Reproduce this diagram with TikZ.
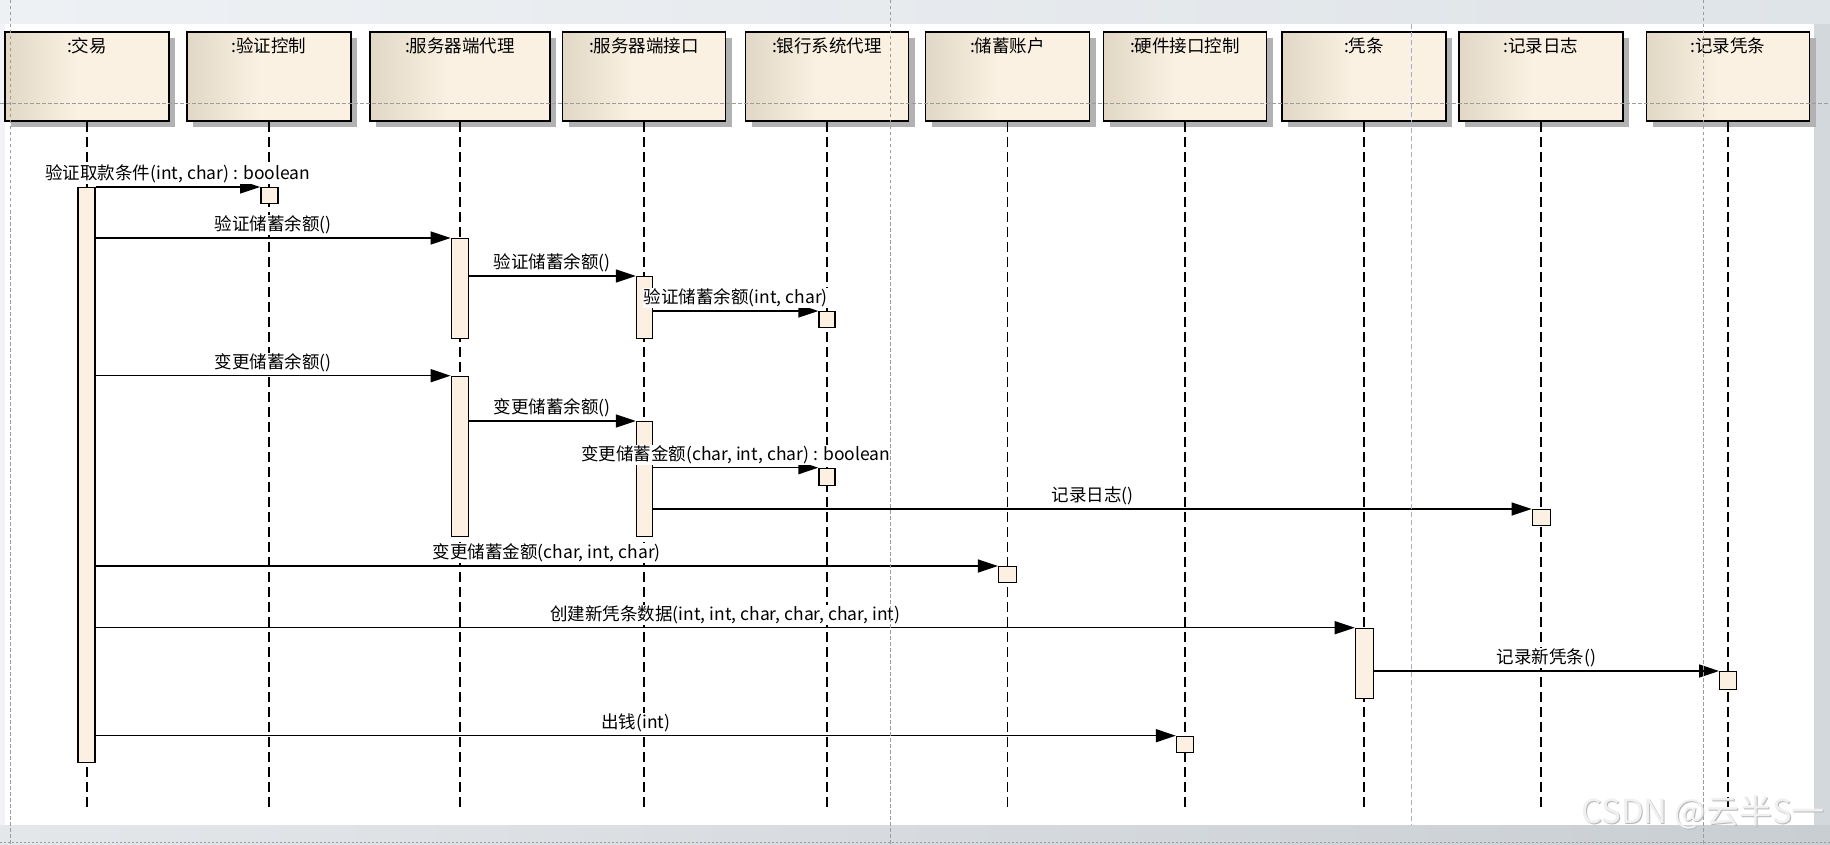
\documentclass[tikz,border=0pt]{standalone}
\usepackage{fontspec}
\setmainfont{Noto Sans CJK SC}
\usetikzlibrary{arrows.meta,shadows,calc}
\definecolor{boxdark}{HTML}{E1D7C4}
\definecolor{boxlight}{HTML}{FBF1E3}
\definecolor{actfill}{HTML}{FBF0E2}
\definecolor{bandtopl}{HTML}{EEF1F4}
\definecolor{bandtopr}{HTML}{DFE4E8}
\definecolor{bandside}{HTML}{D3D8DD}
\definecolor{bandbotl}{HTML}{E4E7EA}
\definecolor{bandbotr}{HTML}{C9CED3}
\definecolor{leftstrip}{HTML}{F1F3F6}
\definecolor{guidegray}{HTML}{9C9C9C}
\definecolor{guideblue}{HTML}{A9A9DD}
\pgfdeclarehorizontalshading{headshade}{100bp}{color(0bp)=(boxdark); color(25bp)=(boxdark); color(47bp)=(boxlight); color(100bp)=(boxlight)}
\newcommand\lifehead[4]{%
  \node[head,minimum width=#3] (#1) at (#2,76.35) {};
  \node[headtext] (#1t) at (#1.north) {#4};
  \draw[lifeline] (#1.south) -- (#1.south |- lifeend);}
\begin{document}
\begin{tikzpicture}[x=1pt,y=-1pt,
  font=\fontsize{17.5pt}{20pt}\selectfont,
  head/.style={draw=black, line width=1.8pt, minimum height=89.3pt, inner sep=0pt, shading=headshade,
    drop shadow={shadow xshift=6pt, shadow yshift=-6pt, fill=black!30, opacity=1}},
  headtext/.style={anchor=north, inner sep=2pt, yshift=-5pt},
  lifeline/.style={draw=black, line width=1.6pt, dash pattern=on 10pt off 5pt},
  act/.style={draw=black, line width=1.4pt, fill=actfill, minimum width=17pt, inner sep=0pt, anchor=north},
  msg/.style={draw=black, line width=1.5pt, -{Triangle[length=20pt,width=13pt]}},
  msglabel/.style={above, fill=white, inner sep=1pt, yshift=2pt},
  guide/.style={draw=guidegray, line width=0.8pt, dash pattern=on 3.5pt off 2.5pt},
  guideb/.style={draw=guideblue, line width=1pt, dash pattern=on 5pt off 3pt}]
\useasboundingbox (0,0) rectangle (1830,845);
% background
\fill[left color=bandtopl, right color=bandtopr] (0,0) rectangle (1830,24);
\fill[leftstrip] (0,24) rectangle (4.7,825);
\fill[bandside] (1814,24) rectangle (1830,825);
\fill[left color=bandbotl, right color=bandbotr] (0,825) rectangle (1830,845);
\fill[white] (4.7,24) rectangle (1814,825);
\coordinate (lifeend) at (0,810);
% lifeline heads
\lifehead{h1}{87}{164pt}{:交易}
\lifehead{h2}{269}{164pt}{:验证控制}
\lifehead{h3}{460}{180pt}{:服务器端代理}
\lifehead{h4}{644}{163pt}{:服务器端接口}
\lifehead{h5}{827}{163pt}{:银行系统代理}
\lifehead{h6}{1007.5}{164pt}{:储蓄账户}
\lifehead{h7}{1185}{163pt}{:硬件接口控制}
\lifehead{h8}{1364}{164pt}{:凭条}
\lifehead{h9}{1541}{164pt}{:记录日志}
\lifehead{h10}{1728}{163pt}{:记录凭条}
% activations
\node[act, minimum height=574.7pt] (a1) at (86.5,187) {};
\node[act, minimum height=16pt] (s1) at (269.3,187) {};
\node[act, minimum height=99.7pt] (a3a) at (459.8,238) {};
\node[act, minimum width=16pt, minimum height=61.7pt] (a4a) at (644.5,276) {};
\node[act, minimum width=16pt, minimum height=16pt] (s5a) at (827,311) {};
\node[act, minimum height=160pt] (a3b) at (459.8,375.7) {};
\node[act, minimum width=16pt, minimum height=114.7pt] (a4b) at (644.5,421) {};
\node[act, minimum width=16pt, minimum height=17.3pt] (s5b) at (827,467.7) {};
\node[act, minimum width=18pt, minimum height=16pt] (s9) at (1541.3,509) {};
\node[act, minimum width=18pt, minimum height=16pt] (s6) at (1007.6,566) {};
\node[act, minimum width=18pt, minimum height=70pt] (a8) at (1364.4,627.7) {};
\node[act, minimum width=16.6pt, minimum height=18pt] (s10) at (1728,671) {};
\node[act, minimum width=17pt, minimum height=16pt] (s7) at (1185,735.7) {};
% messages
\draw[msg] (a1.east |- s1.north) -- node[msglabel] (m1) {验证取款条件(int, char) : boolean} (s1.north west);
\draw[msg] (a1.east |- a3a.north) -- node[msglabel] (m2) {验证储蓄余额()} (a3a.north west);
\draw[msg] (a3a.east |- a4a.north) -- node[msglabel] (m3) {验证储蓄余额()} (a4a.north west);
\draw[msg] (a4a.east |- s5a.north) -- node[msglabel] (m4) {验证储蓄余额(int, char)} (s5a.north west);
\draw[msg] (a1.east |- a3b.north) -- node[msglabel] (m5) {变更储蓄余额()} (a3b.north west);
\draw[msg] (a3b.east |- a4b.north) -- node[msglabel] (m6) {变更储蓄余额()} (a4b.north west);
\draw[msg] (a4b.east |- s5b.north) -- node[msglabel] (m7) {变更储蓄金额(char, int, char) : boolean} (s5b.north west);
\draw[msg] (a4b.east |- s9.north) -- node[msglabel] (m8) {记录日志()} (s9.north west);
\draw[msg] (a1.east |- s6.north) -- node[msglabel] (m9) {变更储蓄金额(char, int, char)} (s6.north west);
\draw[msg] (a1.east |- a8.north) -- node[msglabel] (m10) {创建新凭条数据(int, int, char, char, char, int)} (a8.north west);
\draw[msg] (a8.east |- s10.north) -- node[msglabel] (m11) {记录新凭条()} (s10.north west);
\draw[msg] (a1.east |- s7.north) -- node[msglabel] (m12) {出钱(int)} (s7.north west);
% guide lines
\draw[guide] (0,103) -- (1830,103);
\draw[guide] (10.5,0) -- (10.5,845);
\draw[guide] (890.6,0) -- (890.6,845);
\draw[guide] (1703.6,0) -- (1703.6,845);
\draw[guideb] (1411,24) -- (1411,825);
\draw[guide, dash pattern=on 2pt off 2pt] (0,842.5) -- (1830,842.5);
% watermark
\node[anchor=east, inner sep=0pt, text=black!28, font=\fontsize{33pt}{36pt}\selectfont] (wms) at (1826,813) {CSDN @云半S一};
\node[anchor=east, inner sep=0pt, text=white!94!black, font=\fontsize{33pt}{36pt}\selectfont] (wm) at (1825,812) {CSDN @云半S一};
\end{tikzpicture}
\end{document}
